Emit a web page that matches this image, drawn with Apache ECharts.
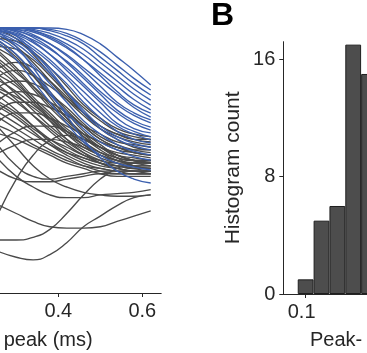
<!DOCTYPE html>
<html>
<head>
<meta charset="utf-8">
<script src="https://cdn.jsdelivr.net/npm/echarts@6/dist/echarts.min.js"></script>
<style>
html,body{margin:0;padding:0;background:#fff;}
#c{width:367px;height:353px;}
</style>
</head>
<body>
<div id="c"></div>
<script>
// ---- Panel A (partially visible): normalized traces vs time from peak (ms)
const sampleX = [0.26, 0.30, 0.34, 0.38, 0.42, 0.46, 0.50, 0.54, 0.58, 0.62];

const blueTraces = [
  [1.00,1.00,1.00,1.00,0.995,0.975,0.94,0.89,0.84,0.785],
  [1.00,1.00,1.00,0.995,0.98,0.95,0.91,0.86,0.81,0.766],
  [1.00,1.00,1.00,0.99,0.97,0.94,0.89,0.84,0.79,0.747],
  [1.00,1.00,0.995,0.98,0.955,0.92,0.87,0.82,0.77,0.728],
  [1.00,1.00,0.99,0.97,0.94,0.90,0.85,0.80,0.75,0.709],
  [1.00,0.995,0.985,0.96,0.925,0.88,0.83,0.78,0.73,0.691],
  [1.00,1.00,0.99,0.965,0.93,0.88,0.82,0.76,0.71,0.679],
  [1.00,0.99,0.97,0.94,0.90,0.85,0.80,0.75,0.70,0.664],
  [1.00,0.995,0.975,0.94,0.895,0.84,0.78,0.72,0.68,0.653],
  [0.995,0.98,0.955,0.92,0.875,0.82,0.76,0.71,0.67,0.642],
  [1.00,0.99,0.965,0.925,0.87,0.81,0.75,0.69,0.65,0.626],
  [0.99,0.975,0.945,0.90,0.85,0.79,0.73,0.68,0.64,0.615],
  [1.00,0.985,0.95,0.90,0.84,0.78,0.72,0.66,0.62,0.604],
  [0.99,0.97,0.93,0.88,0.82,0.76,0.70,0.64,0.61,0.589],
  [0.985,0.96,0.92,0.87,0.81,0.74,0.68,0.63,0.60,0.577],
  [0.98,0.95,0.905,0.85,0.79,0.72,0.66,0.61,0.58,0.566],
  [0.97,0.94,0.89,0.83,0.76,0.69,0.63,0.59,0.565,0.551],
  [1.00,0.97,0.91,0.84,0.76,0.68,0.62,0.58,0.555,0.540],
  [0.96,0.92,0.86,0.79,0.72,0.65,0.60,0.56,0.535,0.521],
  [0.95,0.90,0.83,0.75,0.68,0.62,0.57,0.54,0.515,0.502],
  [0.94,0.88,0.80,0.72,0.64,0.57,0.52,0.49,0.475,0.464],
  [0.98,0.93,0.85,0.76,0.67,0.58,0.51,0.46,0.43,0.415]
];

const grayTraces = [
  [0.97,0.93,0.87,0.80,0.73,0.67,0.62,0.59,0.57,0.56],
  [0.95,0.90,0.83,0.76,0.69,0.63,0.58,0.55,0.53,0.52],
  [0.92,0.88,0.82,0.75,0.68,0.61,0.56,0.52,0.50,0.49],
  [0.90,0.84,0.77,0.70,0.64,0.59,0.55,0.52,0.50,0.49],
  [0.88,0.83,0.78,0.72,0.66,0.60,0.55,0.51,0.48,0.47],
  [0.86,0.80,0.73,0.66,0.60,0.55,0.52,0.50,0.49,0.49],
  [0.84,0.79,0.73,0.67,0.61,0.56,0.52,0.49,0.47,0.46],
  [0.82,0.78,0.72,0.65,0.58,0.53,0.49,0.47,0.46,0.46],
  [0.80,0.76,0.71,0.66,0.61,0.57,0.53,0.50,0.48,0.47],
  [0.78,0.73,0.67,0.61,0.56,0.52,0.49,0.47,0.46,0.45],
  [0.76,0.72,0.67,0.62,0.57,0.53,0.50,0.48,0.47,0.47],
  [0.74,0.69,0.63,0.57,0.53,0.50,0.48,0.47,0.46,0.46],
  [0.72,0.68,0.63,0.58,0.54,0.51,0.49,0.48,0.48,0.48],
  [0.70,0.66,0.61,0.56,0.52,0.49,0.47,0.46,0.45,0.45],
  [0.68,0.64,0.60,0.56,0.53,0.51,0.49,0.48,0.47,0.47],
  [0.66,0.62,0.58,0.54,0.51,0.48,0.46,0.45,0.45,0.45],
  [0.63,0.60,0.56,0.53,0.50,0.48,0.47,0.46,0.46,0.46],
  [0.60,0.58,0.55,0.52,0.49,0.47,0.45,0.44,0.44,0.44],
  [0.85,0.87,0.85,0.80,0.74,0.68,0.62,0.58,0.55,0.54],
  [0.82,0.84,0.82,0.78,0.73,0.68,0.63,0.60,0.58,0.57],
  [0.78,0.80,0.79,0.75,0.70,0.64,0.59,0.56,0.54,0.53],
  [0.73,0.76,0.75,0.72,0.68,0.63,0.58,0.55,0.53,0.52],
  [0.69,0.72,0.72,0.70,0.67,0.63,0.60,0.57,0.56,0.55],
  [0.65,0.68,0.68,0.66,0.63,0.60,0.57,0.54,0.53,0.52],
  [0.57,0.61,0.63,0.63,0.61,0.58,0.55,0.52,0.51,0.50],
  [0.53,0.56,0.58,0.58,0.57,0.55,0.52,0.50,0.49,0.48],
  [0.96,0.95,0.91,0.85,0.78,0.71,0.66,0.62,0.60,0.59],
  [0.93,0.92,0.88,0.82,0.75,0.68,0.63,0.60,0.58,0.58],
  [0.99,0.96,0.90,0.83,0.76,0.70,0.65,0.61,0.59,0.58],
  [0.94,0.89,0.82,0.74,0.66,0.59,0.54,0.51,0.50,0.50],
  [0.91,0.85,0.78,0.71,0.65,0.60,0.57,0.55,0.54,0.54],
  [0.87,0.81,0.74,0.68,0.62,0.58,0.55,0.53,0.52,0.51],
  [0.81,0.75,0.69,0.63,0.58,0.54,0.51,0.49,0.48,0.48],
  [0.77,0.74,0.70,0.65,0.60,0.56,0.53,0.51,0.50,0.50],
  [0.71,0.67,0.62,0.58,0.55,0.52,0.50,0.49,0.49,0.49],
  [0.31,0.43,0.52,0.575,0.595,0.58,0.55,0.52,0.50,0.49],
  [0.33,0.30,0.27,0.25,0.245,0.245,0.25,0.27,0.29,0.31],
  [0.50,0.44,0.40,0.37,0.36,0.36,0.37,0.375,0.38,0.39],
  [0.155,0.135,0.125,0.145,0.19,0.25,0.29,0.33,0.36,0.37],
  [0.20,0.20,0.21,0.24,0.30,0.37,0.43,0.47,0.49,0.50],
  [0.55,0.48,0.44,0.43,0.44,0.45,0.46,0.46,0.46,0.46],
  [0.46,0.43,0.42,0.42,0.43,0.44,0.45,0.45,0.45,0.45],
  [0.62,0.55,0.48,0.43,0.40,0.38,0.37,0.365,0.365,0.37]
];

const leftTicks = [0.2, 0.4, 0.6];

// ---- Panel B: histogram
const histBins = [0.10, 0.12, 0.14, 0.16, 0.18];
const histCounts = [1, 5, 6, 17, 15];
const histXTicks = [0.1];
const histYTicks = [0, 8, 16];

const TXT = '#262626';
const FONT = 'Liberation Sans, Arial, sans-serif';

const series = [];
grayTraces.forEach(t => series.push({
  type: 'line', xAxisIndex: 0, yAxisIndex: 0,
  data: sampleX.map((x, i) => [x, t[i]]),
  smooth: 0.5, showSymbol: false, clip: false,
  lineStyle: {color: '#4a4a4a', width: 1.35}, silent: true
}));
blueTraces.forEach(t => series.push({
  type: 'line', xAxisIndex: 0, yAxisIndex: 0,
  data: sampleX.map((x, i) => [x, t[i]]),
  smooth: 0.5, showSymbol: false, clip: false,
  lineStyle: {color: '#3b5fae', width: 1.35}, silent: true
}));
series.push({
  type: 'bar', xAxisIndex: 1, yAxisIndex: 1,
  data: histBins.map((b, i) => [b, histCounts[i]]),
  barWidth: 15.8,
  itemStyle: {color: '#4d4d4d', borderColor: '#1e1e1e', borderWidth: 1}
});

const chart = echarts.init(document.getElementById('c'), null, {renderer: 'canvas'});
chart.setOption({
  animation: false,
  backgroundColor: '#ffffff',
  textStyle: {fontFamily: FONT},
  grid: [
    {left: -109.7, top: 28, width: 270.9, height: 265, outerBoundsMode: 'none', containLabel: false},
    {left: 283.3, top: 41.7, width: 101.6, height: 252.3, outerBoundsMode: 'none', containLabel: false}
  ],
  xAxis: [
    {
      gridIndex: 0, type: 'value', min: 0, max: 0.645,
      axisLine: {show: true, onZero: false, lineStyle: {color: TXT, width: 1}},
      axisTick: {show: true, length: 4, customValues: leftTicks, lineStyle: {color: TXT}},
      axisLabel: {customValues: leftTicks, color: TXT, fontSize: 20, margin: 8, fontFamily: FONT},
      splitLine: {show: false}
    },
    {
      gridIndex: 1, type: 'value', min: 0.0718, max: 0.2,
      axisLine: {show: true, onZero: false, lineStyle: {color: TXT, width: 1}},
      axisTick: {show: true, length: 4, customValues: histXTicks, lineStyle: {color: TXT}},
      axisLabel: {customValues: histXTicks, color: TXT, fontSize: 20, margin: 8, fontFamily: FONT, padding: [0, 8, 0, 0]},
      splitLine: {show: false}
    }
  ],
  yAxis: [
    {gridIndex: 0, type: 'value', min: 0, max: 1, show: false, splitLine: {show: false}},
    {
      gridIndex: 1, type: 'value', min: 0, max: 17.2,
      name: 'Histogram count', nameLocation: 'middle', nameGap: 40,
      nameTextStyle: {color: TXT, fontSize: 21, fontFamily: FONT},
      axisLine: {show: true, onZero: false, lineStyle: {color: TXT, width: 1}},
      axisTick: {show: true, length: 4, customValues: histYTicks, lineStyle: {color: TXT}},
      axisLabel: {customValues: histYTicks, color: TXT, fontSize: 20, margin: 8, fontFamily: FONT},
      splitLine: {show: false}
    }
  ],
  graphic: [
    {type: 'text', left: 3.7, top: 330, style: {text: 'peak (ms)', fill: TXT, font: '20px ' + FONT}},
    {type: 'text', left: 310, top: 330, style: {text: 'Peak-', fill: TXT, font: '20px ' + FONT}},
    {type: 'text', left: 211, top: 0, style: {text: 'B', fill: '#000', font: 'bold 32px ' + FONT}}
  ],
  series: series
});
</script>
</body>
</html>
